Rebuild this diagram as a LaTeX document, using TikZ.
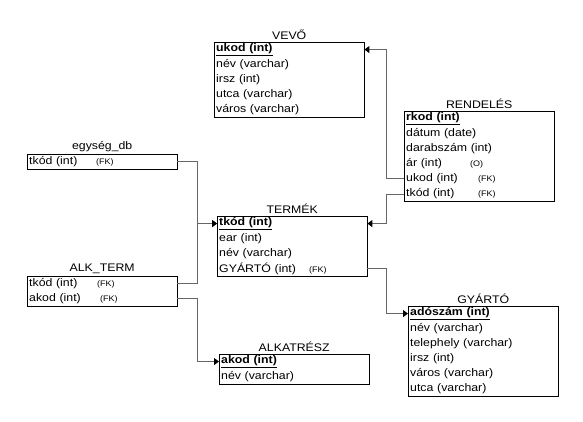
\documentclass[tikz,border=0pt]{standalone}
\usepackage{fontspec}
\setmainfont{Liberation Sans}[FakeStretch=1.12]
\usepackage{tikz}
\usetikzlibrary{positioning}
\usetikzlibrary{arrows.meta}
\newcommand{\tblfont}{\fontsize{11}{13}\selectfont}
\newcommand{\fkfont}{\fontsize{8}{9}\selectfont}
\newcommand{\fkcol}[3]{\makebox[#1][l]{#2}{\fkfont #3}}
\newcommand{\pkey}[1]{\underline{\textbf{#1}}}

\begin{document}
\begin{tikzpicture}[x=1pt,y=-1pt,
    row/.style={inner xsep=2pt, inner ysep=0pt, text width=146pt,
      minimum height=14.7pt, align=left, anchor=north west, font=\tblfont},
    title/.style={inner sep=1pt, font=\tblfont},
    tablebox/.style={draw=black, line width=0.8pt},
    link/.style={draw=black!60, line width=1pt,
      -{Triangle[black, length=5pt, width=7pt]}}]
  \useasboundingbox (0,0) rectangle (583,422);
  % VEVO
  \node[row] (vevo-1) at (214,42) {\pkey{ukod (int)}};
  \node[row, below=0pt of vevo-1] (vevo-2) {név (varchar)};
  \node[row, below=0pt of vevo-2] (vevo-3) {irsz (int)};
  \node[row, below=0pt of vevo-3] (vevo-4) {utca (varchar)};
  \node[row, below=0pt of vevo-4] (vevo-5) {város (varchar)};
  \draw[tablebox] (vevo-1.north west) rectangle (vevo-5.south east);
  \node[title, above=1pt of vevo-1] (vevo) {VEVŐ};
  % RENDELES
  \node[row] (rend-1) at (404,111) {\pkey{rkod (int)}};
  \node[row, below=0pt of rend-1] (rend-2) {dátum (date)};
  \node[row, below=0pt of rend-2] (rend-3) {darabszám (int)};
  \node[row, below=0pt of rend-3] (rend-4) {\fkcol{64pt}{ár (int)}{(O)}};
  \node[row, below=0pt of rend-4] (rend-5) {\fkcol{72pt}{ukod (int)}{(FK)}};
  \node[row, below=0pt of rend-5] (rend-6) {\fkcol{72pt}{tkód (int)}{(FK)}};
  \draw[tablebox] (rend-1.north west) rectangle (rend-6.south east);
  \node[title, above=1pt of rend-1] (rend) {RENDELÉS};
  % egyseg_db
  \node[row] (egy-1) at (27,154) {\fkcol{67pt}{tkód (int)}{(FK)}};
  \draw[tablebox] (egy-1.north west) rectangle (egy-1.south east);
  \node[title, above=1pt of egy-1] (egy) {egység\_db};
  % TERMEK
  \node[row] (term-1) at (217,216) {\pkey{tkód (int)}};
  \node[row, below=0pt of term-1] (term-2) {ear (int)};
  \node[row, below=0pt of term-2] (term-3) {név (varchar)};
  \node[row, below=0pt of term-3] (term-4) {\fkcol{90pt}{GYÁRTÓ (int)}{(FK)}};
  \draw[tablebox] (term-1.north west) rectangle (term-4.south east);
  \node[title, above=1pt of term-1] (term) {TERMÉK};
  % ALK_TERM
  \node[row] (alk-1) at (27,276) {\fkcol{68pt}{tkód (int)}{(FK)}};
  \node[row, below=0pt of alk-1] (alk-2) {\fkcol{71pt}{akod (int)}{(FK)}};
  \draw[tablebox] (alk-1.north west) rectangle (alk-2.south east);
  \node[title, above=1pt of alk-1] (alk) {ALK\_TERM};
  % GYARTO
  \node[row] (gy-1) at (408,306) {\pkey{adószám (int)}};
  \node[row, below=0pt of gy-1] (gy-2) {név (varchar)};
  \node[row, below=0pt of gy-2] (gy-3) {telephely (varchar)};
  \node[row, below=0pt of gy-3] (gy-4) {irsz (int)};
  \node[row, below=0pt of gy-4] (gy-5) {város (varchar)};
  \node[row, below=0pt of gy-5] (gy-6) {utca (varchar)};
  \draw[tablebox] (gy-1.north west) rectangle (gy-6.south east);
  \node[title, above=1pt of gy-1] (gy) {GYÁRTÓ};
  % ALKATRESZ
  \node[row] (alkr-1) at (219,354) {\pkey{akod (int)}};
  \node[row, below=0pt of alkr-1] (alkr-2) {név (varchar)};
  \draw[tablebox] (alkr-1.north west) rectangle (alkr-2.south east);
  \node[title, above=1pt of alkr-1] (alkr) {ALKATRÉSZ};
  % kapcsolatok
  \draw[link] (rend-5.west) -- ++(-18,0) |- (vevo-1.east);
  \draw[link] (rend-6.west) -- ++(-18,0) |- (term-1.east);
  \draw[link] (egy-1.east) -- ++(20,0) |- (term-1.west);
  \draw[link] (alk-1.east) -- ++(20,0) |- (term-1.west);
  \draw[link] (alk-2.east) -- ++(20,0) |- (alkr-1.west);
  \draw[link] (term-4.east) -- ++(19,0) |- (gy-1.west);
\end{tikzpicture}
\end{document}
